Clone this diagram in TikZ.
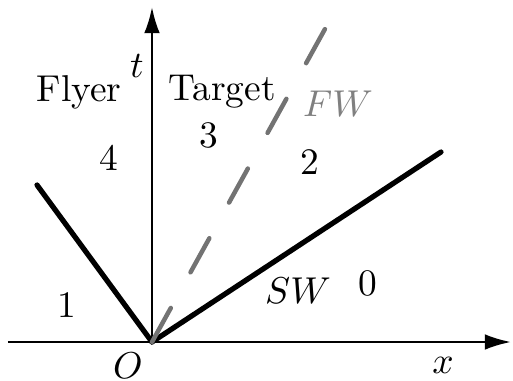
\documentclass[tikz,border=0pt]{standalone}
\usepackage{tikz}
\usetikzlibrary{arrows.meta}

\begin{document}
\begin{tikzpicture}[
  x=0.0094cm, y=-0.0094cm,
  every node/.style={font=\normalsize, inner sep=0pt},
  axis/.style={line width=0.65pt, -{Latex[length=7pt,width=4.2pt]}},
  wave/.style={line width=1.4pt, line cap=round},
  fwave/.style={line width=1.2pt, color=black!55, line cap=round,
    dash pattern=on 10.4pt off 10.9pt},
  region/.style={font=\normalsize}
]
\useasboundingbox (0,0) rectangle (513,381);

%% ── AXES ─────────────────────────────────────────────────
\coordinate (O)    at (152,342);
\coordinate (xbeg) at (8,342);
\coordinate (xend) at (511,342);
\coordinate (tend) at (152,7);
\draw[axis] (xbeg) -- (xend);
\draw[axis] (O) -- (tend);

\node (olbl) at (128,366) {$O$};
\node (xlbl) at (443,365) {$x$};
\node (tlbl) at (137,66)  {$t$};

%% ── WAVES ────────────────────────────────────────────────
\coordinate (lend)  at (37,185);
\coordinate (swend) at (441,152);
\coordinate (fwend) at (325,29);
\draw[wave]  (O) -- (lend);
\draw[wave]  (O) -- (swend);
\draw[fwave] (O) -- (fwend);

\node (swlbl) at (298,291) {$SW$};
\node[text=black!50] (fwlbl) at (338,104) {$FW$};

%% ── REGIONS ──────────────────────────────────────────────
\node (flyer)  at (79,92)   {Flyer};
\node (target) at (222,92)  {Target};
\node[region] (r0) at (368,283) {0};
\node[region] (r1) at (67,305)  {1};
\node[region] (r2) at (310,162) {2};
\node[region] (r3) at (209,135) {3};
\node[region] (r4) at (109,158) {4};

\end{tikzpicture}
\end{document}
